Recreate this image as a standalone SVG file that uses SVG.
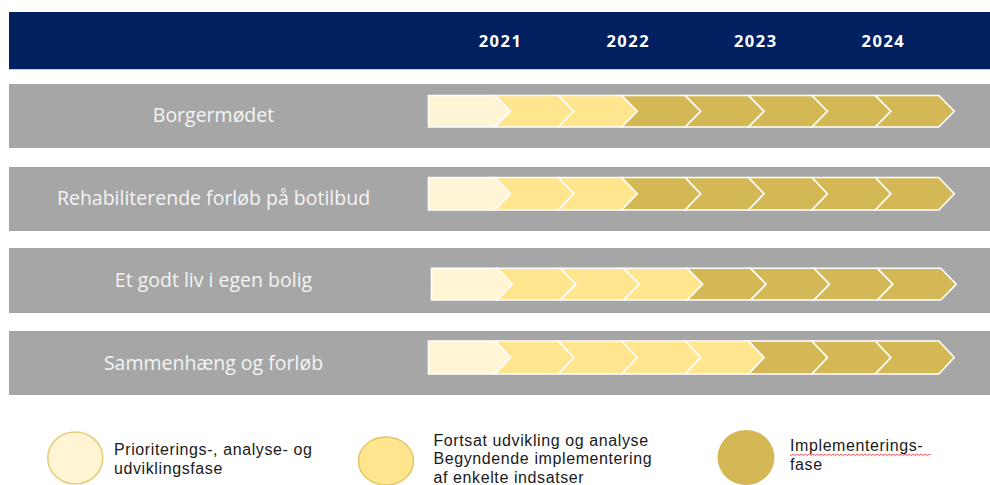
<svg xmlns="http://www.w3.org/2000/svg" width="990" height="485" viewBox="0 0 990 485">
<defs>
<style>
.band{fill:#a6a6a6;}
.hdr{fill:#002060;}
.yr{font-family:"Open Sans","Liberation Sans",sans-serif;font-weight:bold;font-size:16.5px;fill:#ffffff;text-anchor:middle;letter-spacing:1.5px;}
.lbl{font-family:"Open Sans","Liberation Sans",sans-serif;font-size:19.5px;fill:#f4f4f4;text-anchor:middle;}
.leg{font-family:"Liberation Sans",Arial,sans-serif;font-size:16px;fill:#1a1a1a;letter-spacing:0.6px;}
.p1{fill:#fff4d4;stroke:#ffffff;stroke-width:1.6;stroke-linejoin:miter;}
.p2{fill:#ffe68e;stroke:#ffffff;stroke-width:1.6;stroke-linejoin:miter;}
.p3{fill:#d4b856;stroke:#ffffff;stroke-width:1.6;stroke-linejoin:miter;}
</style>
<pattern id="squiggle" x="0" y="0" width="4" height="3" patternUnits="userSpaceOnUse">
<path d="M0 2.2 Q1 0.2 2 1.5 T4 2.2" fill="none" stroke="#e03030" stroke-width="0.8"/>
</pattern>
</defs>

<g id="header">
<rect class="hdr" x="9" y="12" width="981" height="57"/>
<line x1="9" y1="69.5" x2="990" y2="69.5" stroke="#c8d0e0" stroke-width="1"/>
<text class="yr" x="500.5" y="46.5">2021</text>
<text class="yr" x="628.3" y="46.5">2022</text>
<text class="yr" x="755.8" y="46.5">2023</text>
<text class="yr" x="883.4" y="46.5">2024</text>
</g>

<g id="row-borgermoedet">
<rect class="band" x="9" y="84" width="981" height="64"/>
<text class="lbl" x="213.5" y="122.3">Borgermødet</text>
<path class="p1" d="M428.5 95.5 L495 95.5 L510.5 111.25 L495 127 L428.5 127 Z"/>
<path class="p2" d="M495 95.5 L558.4 95.5 L573.9 111.25 L558.4 127 L495 127 L510.5 111.25 Z"/>
<path class="p2" d="M558.4 95.5 L621.8 95.5 L637.3 111.25 L621.8 127 L558.4 127 L573.9 111.25 Z"/>
<path class="p3" d="M621.8 95.5 L685.2 95.5 L700.7 111.25 L685.2 127 L621.8 127 L637.3 111.25 Z"/>
<path class="p3" d="M685.2 95.5 L748.6 95.5 L764.1 111.25 L748.6 127 L685.2 127 L700.7 111.25 Z"/>
<path class="p3" d="M748.6 95.5 L812 95.5 L827.5 111.25 L812 127 L748.6 127 L764.1 111.25 Z"/>
<path class="p3" d="M812 95.5 L875.4 95.5 L890.9 111.25 L875.4 127 L812 127 L827.5 111.25 Z"/>
<path class="p3" d="M875.4 95.5 L938.8 95.5 L954.3 111.25 L938.8 127 L875.4 127 L890.9 111.25 Z"/>
</g>

<g id="row-rehabiliterende">
<rect class="band" x="9" y="167" width="981" height="64"/>
<text class="lbl" x="213.5" y="205">Rehabiliterende forløb på botilbud</text>
<path class="p1" d="M428.5 177.5 L495 177.5 L510.5 193.75 L495 210 L428.5 210 Z"/>
<path class="p2" d="M495 177.5 L558.4 177.5 L573.9 193.75 L558.4 210 L495 210 L510.5 193.75 Z"/>
<path class="p2" d="M558.4 177.5 L621.8 177.5 L637.3 193.75 L621.8 210 L558.4 210 L573.9 193.75 Z"/>
<path class="p3" d="M621.8 177.5 L685.2 177.5 L700.7 193.75 L685.2 210 L621.8 210 L637.3 193.75 Z"/>
<path class="p3" d="M685.2 177.5 L748.6 177.5 L764.1 193.75 L748.6 210 L685.2 210 L700.7 193.75 Z"/>
<path class="p3" d="M748.6 177.5 L812 177.5 L827.5 193.75 L812 210 L748.6 210 L764.1 193.75 Z"/>
<path class="p3" d="M812 177.5 L875.4 177.5 L890.9 193.75 L875.4 210 L812 210 L827.5 193.75 Z"/>
<path class="p3" d="M875.4 177.5 L938.8 177.5 L954.3 193.75 L938.8 210 L875.4 210 L890.9 193.75 Z"/>
</g>

<g id="row-et-godt-liv">
<rect class="band" x="9" y="248" width="981" height="65"/>
<text class="lbl" x="213.5" y="287.3">Et godt liv i egen bolig</text>
<path class="p1" d="M431.5 268.3 L497 268.3 L512.5 284.15 L497 300 L431.5 300 Z"/>
<path class="p2" d="M497 268.3 L560.4 268.3 L575.9 284.15 L560.4 300 L497 300 L512.5 284.15 Z"/>
<path class="p2" d="M560.4 268.3 L623.8 268.3 L639.3 284.15 L623.8 300 L560.4 300 L575.9 284.15 Z"/>
<path class="p2" d="M623.8 268.3 L687.2 268.3 L702.7 284.15 L687.2 300 L623.8 300 L639.3 284.15 Z"/>
<path class="p3" d="M687.2 268.3 L750.6 268.3 L766.1 284.15 L750.6 300 L687.2 300 L702.7 284.15 Z"/>
<path class="p3" d="M750.6 268.3 L814 268.3 L829.5 284.15 L814 300 L750.6 300 L766.1 284.15 Z"/>
<path class="p3" d="M814 268.3 L877.4 268.3 L892.9 284.15 L877.4 300 L814 300 L829.5 284.15 Z"/>
<path class="p3" d="M877.4 268.3 L940.8 268.3 L956.3 284.15 L940.8 300 L877.4 300 L892.9 284.15 Z"/>
</g>

<g id="row-sammenhaeng">
<rect class="band" x="9" y="331" width="981" height="64"/>
<text class="lbl" x="213.5" y="370">Sammenhæng og forløb</text>
<path class="p1" d="M428.5 341 L495 341 L510.5 357.5 L495 374 L428.5 374 Z"/>
<path class="p2" d="M495 341 L558.4 341 L573.9 357.5 L558.4 374 L495 374 L510.5 357.5 Z"/>
<path class="p2" d="M558.4 341 L621.8 341 L637.3 357.5 L621.8 374 L558.4 374 L573.9 357.5 Z"/>
<path class="p2" d="M621.8 341 L685.2 341 L700.7 357.5 L685.2 374 L621.8 374 L637.3 357.5 Z"/>
<path class="p2" d="M685.2 341 L748.6 341 L764.1 357.5 L748.6 374 L685.2 374 L700.7 357.5 Z"/>
<path class="p3" d="M748.6 341 L812 341 L827.5 357.5 L812 374 L748.6 374 L764.1 357.5 Z"/>
<path class="p3" d="M812 341 L875.4 341 L890.9 357.5 L875.4 374 L812 374 L827.5 357.5 Z"/>
<path class="p3" d="M875.4 341 L938.8 341 L954.3 357.5 L938.8 374 L875.4 374 L890.9 357.5 Z"/>
</g>

<g id="legend-1">
<ellipse cx="75.3" cy="458" rx="27.5" ry="26" fill="#fff4d4" stroke="#e6cd78" stroke-width="1.5"/>
<text class="leg" x="114" y="455">Prioriterings-, analyse- og</text>
<text class="leg" x="114" y="473.5">udviklingsfase</text>
</g>

<g id="legend-2">
<ellipse cx="386" cy="461" rx="27.5" ry="24" fill="#ffe68e" stroke="#e2c766" stroke-width="1.5"/>
<text class="leg" x="433.5" y="445.5">Fortsat udvikling og analyse</text>
<text class="leg" x="433.5" y="464">Begyndende implementering</text>
<text class="leg" x="433.5" y="482.5">af enkelte indsatser</text>
</g>

<g id="legend-3">
<ellipse cx="746" cy="457.5" rx="28.5" ry="27.5" fill="#d4b856"/>
<text class="leg" x="790" y="451">Implementerings-</text>
<rect x="790" y="453.5" width="141" height="3" fill="url(#squiggle)"/>
<text class="leg" x="790" y="469.5">fase</text>
</g>

<g id="connectors"/>
</svg>
